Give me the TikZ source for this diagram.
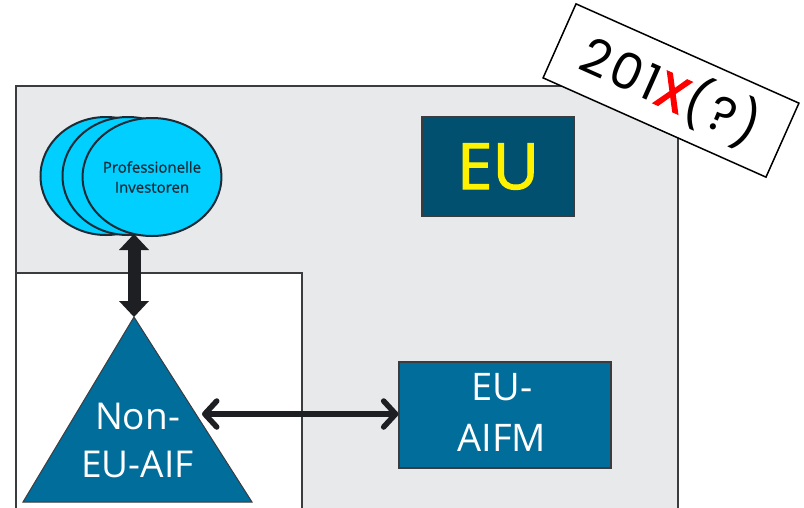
\documentclass[tikz,border=0pt]{standalone}
\usepackage{fontspec}
\setmainfont{Open Sans}
\newfontfamily\heavyfont[FakeBold=1.6]{Open Sans}
\newfontfamily\mediumfont[FakeBold=0.8]{Open Sans}
\newfontfamily\yearfont[LetterSpace=6]{Poppins}
\newfontfamily\yearmark[FakeBold=3]{Poppins}
\usetikzlibrary{arrows.meta,shapes.geometric,calc}

\definecolor{regiongray}{HTML}{E8E9EB}
\definecolor{framegray}{HTML}{3A3C3F}
\definecolor{eublue}{HTML}{02506F}
\definecolor{fundblue}{HTML}{006D9B}
\definecolor{investcyan}{HTML}{00CFFF}
\definecolor{inktext}{HTML}{1C2B36}
\definecolor{arrowink}{HTML}{1D1F22}
\definecolor{mark}{HTML}{FF0000}

\tikzset{
  region/.style={draw=framegray, line width=1.4pt},
  investor/.style={ellipse, draw=inktext, line width=2pt, fill=investcyan,
    minimum width=131pt, minimum height=118pt, inner sep=0pt},
  darkbox/.style={draw=framegray, line width=1.2pt, inner sep=0pt},
  bigarrow/.style={arrowink, line width=13pt,
    {Triangle[width=30pt,length=16pt,line width=0pt]}-{Triangle[width=30pt,length=16pt,line width=0pt]}},
  linkarrow/.style={arrowink, line width=5.5pt,
    {Straight Barb[length=12pt,width=26pt,line cap=round,line join=round]}-{Straight Barb[length=12pt,width=26pt,line cap=round,line join=round]}},
}

\begin{document}
\begin{tikzpicture}[x=1pt,y=-1pt]
  \useasboundingbox (0,0) rectangle (804,507);
  \clip (0,0) rectangle (804,507);

  % EU area and the non-EU area inside it
  \draw[region, fill=regiongray] (16,86) rectangle (678,530);
  \draw[region, fill=white] (16,273) rectangle (302,530);

  % EU label
  \node[darkbox, fill=eublue, minimum width=152pt, minimum height=99pt,
        text=yellow, font=\heavyfont\fontsize{64}{70}\selectfont] (eu) at (498,166.5) {EU};

  % tilted year tag
  \node[draw=black, line width=1.5pt, fill=white, rotate=-24,
        minimum width=244pt, minimum height=81pt, inner sep=0pt,
        font=\yearfont\fontsize{50}{56}\selectfont] (year) at (671,90.5)
        {201{\yearmark\color{mark}X}(?)};

  % professional investors (stacked)
  \node[investor] (inv1) at (106,176) {};
  \node[investor] (inv2) at (128,176) {};
  \node[investor, font=\mediumfont\fontsize{15}{20}\selectfont, text=inktext, align=center]
        (inv3) at (152,177) {Professionelle\\Investoren};

  % non-EU AIF (triangle)
  \coordinate (apex) at (134,317);
  \coordinate (aifbl) at (23,502);
  \coordinate (aifbr) at (252,502);
  \fill[fundblue] (apex) -- (aifbl) -- (aifbr) -- cycle;
  \draw[framegray, line width=1pt] (apex) -- (aifbl) -- (aifbr) -- cycle;
  \node[text=white, align=center, font=\fontsize{37}{48}\selectfont] (aif)
        at (137.5,440) {Non-\\EU-AIF};

  % EU AIFM
  \node[darkbox, fill=fundblue, minimum width=212pt, minimum height=106pt]
        (aifm) at (505,415) {};
  \node[text=white, align=center, font=\fontsize{38}{51}\selectfont] (aifmtext)
        at (502,412) {EU-\\AIFM};

  % connectors
  \coordinate (invbot) at (134,234);
  \coordinate (aifside) at (202,414);
  \draw[bigarrow] (invbot) -- (apex);
  \draw[linkarrow] (aifside) -- (aifm.west |- aifside);
\end{tikzpicture}
\end{document}
